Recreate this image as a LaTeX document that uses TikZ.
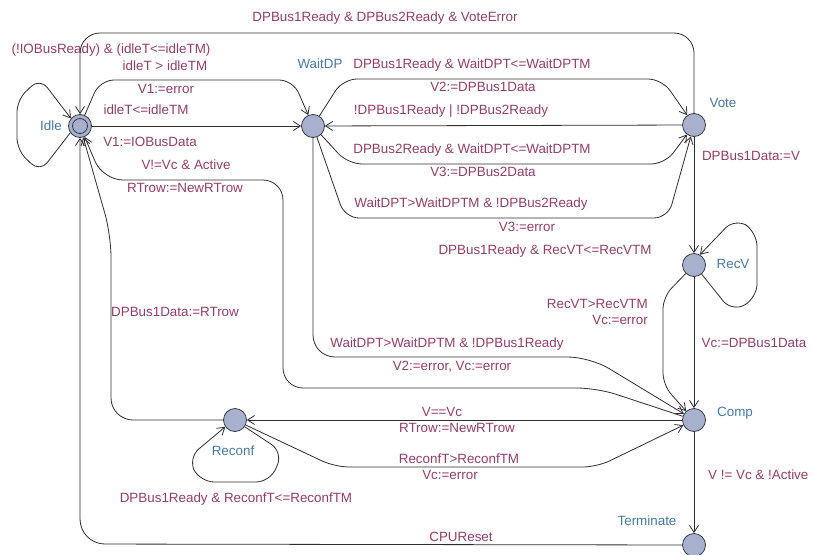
\documentclass[tikz,border=0pt]{standalone}
\usepackage{fontspec}
\setmainfont{Liberation Sans}
\usetikzlibrary{arrows.meta}

\definecolor{locfill}{RGB}{167,176,205}
\definecolor{locdraw}{RGB}{55,58,70}
\definecolor{locname}{RGB}{70,120,165}
\definecolor{edgetext}{RGB}{150,60,105}
\definecolor{edgeline}{RGB}{45,45,45}

\tikzset{
  loc/.style={circle, minimum size=23pt, inner sep=0pt, fill=locfill, draw=locdraw, line width=0.8pt},
  locname/.style={text=locname, font=\fontsize{13.4}{15}\selectfont, inner sep=0pt, text height=9.6pt, text depth=2.6pt},
  lbl/.style={text=edgetext, font=\fontsize{13.4}{15}\selectfont, inner sep=0pt, text height=9.6pt, text depth=2.6pt},
  trans/.style={draw=edgeline, line width=0.8pt, -{Straight Barb[length=7pt,width=9pt]}, rounded corners=14pt},
}

\begin{document}
\begin{tikzpicture}[x=1pt,y=-1pt]
\useasboundingbox (0,0) rectangle (813,554);

% locations
\node[loc] (idle)   at (80,126)  {};
\node[loc] (waitdp) at (313,126) {};
\node[loc] (vote)   at (694,125) {};
\node[loc] (recv)   at (694,265) {};
\node[loc] (comp)   at (694,420) {};
\node[loc] (reconf) at (235,420) {};
\node[loc] (term)   at (694,545) {};
% initial location ring
\draw[locdraw, line width=0.8pt] (idle) circle[radius=7.5pt];

% location names
\node[locname, anchor=east] (nIdle) at (62,127) {Idle};
\node[locname] (nWaitDP) at (320,65)  {WaitDP};
\node[locname] (nVote)   at (723,104) {Vote};
\node[locname] (nRecV)   at (733,265) {RecV};
\node[locname] (nComp)   at (735,413) {Comp};
\node[locname] (nReconf) at (233,452) {Reconf};
\node[locname] (nTerm)   at (647,522) {Terminate};

% Idle self-loop
\draw[trans, rounded corners=12pt] (idle.215) -- (40,172) -- (17,150) -- (17,100) -- (40,78) -- (idle.140);
\node[lbl] (g1) at (111,50) {(!IOBusReady) \& (idleT<=idleTM)};

% Idle -> WaitDP (timeout)
\draw[trans] (idle) -- (100,80) -- (293,80) -- (waitdp);
\node[lbl] (g2) at (165,67) {idleT > idleTM};
\node[lbl] (a2) at (166,90) {V1:=error};

% Idle -> WaitDP
\draw[trans] (idle) -- (waitdp);
\node[lbl] (g3) at (146,111) {idleT<=idleTM};
\node[lbl] (a3) at (150,143) {V1:=IOBusData};

% Vote -> Idle (vote error)
\draw[trans, rounded corners=20pt] (vote) -- (694,33) -- (80,33) -- (idle);
\node[lbl] (g4) at (385,18) {DPBus1Ready \& DPBus2Ready \& VoteError};

% WaitDP -> Vote (bus 1)
\draw[trans] (waitdp) -- (343,79) -- (662,79) -- (vote);
\node[lbl] (g5) at (472,65) {DPBus1Ready \& WaitDPT<=WaitDPTM};
\node[lbl] (a5) at (483,88) {V2:=DPBus1Data};

% Vote -> WaitDP
\draw[trans] (vote) -- (waitdp);
\node[lbl] (g6) at (451,111) {!DPBus1Ready | !DPBus2Ready};

% WaitDP -> Vote (bus 2)
\draw[trans] (waitdp) -- (348,164) -- (665,164) -- (vote);
\node[lbl] (g7) at (472,150) {DPBus2Ready \& WaitDPT<=WaitDPTM};
\node[lbl] (a7) at (483,173) {V3:=DPBus2Data};

% WaitDP -> Vote (bus 2 timeout)
\draw[trans] (waitdp) -- (345,218) -- (668,218) -- (vote);
\node[lbl] (g8) at (471,204) {WaitDPT>WaitDPTM \& !DPBus2Ready};
\node[lbl] (a8) at (527,228) {V3:=error};

% WaitDP -> Comp (bus 1 timeout)
\draw[trans, rounded corners=22pt] (waitdp) -- (313,357) -- (590,357) -- (comp);
\node[lbl] (g9) at (447,344) {WaitDPT>WaitDPTM \& !DPBus1Ready};
\node[lbl] (a9) at (452,367) {V2:=error, Vc:=error};

% Comp -> Idle
\draw[trans, rounded corners=20pt] (comp) -- (597,388) -- (283,388) -- (283,180) -- (103,180) -- (idle);
\node[lbl] (g10) at (186,166) {V!=Vc \& Active};
\node[lbl] (a10) at (185,189) {RTrow:=NewRTrow};

% Reconf -> Idle
\draw[trans, rounded corners=22pt] (reconf) -- (111,420) -- (111,235) -- (idle);
\node[lbl] (a11) at (175,313) {DPBus1Data:=RTrow};

% Terminate -> Idle
\draw[trans, rounded corners=25pt] (term) -- (80,544) -- (idle);
\node[lbl] (g12) at (461,538) {CPUReset};

% Reconf self-loop
\draw[trans, rounded corners=14pt] (reconf.-35) -- (283,452) -- (270,482) -- (200,482) -- (188,458) -- (reconf.215);
\node[lbl] (g13) at (236,499) {DPBus1Ready \& ReconfT<=ReconfTM};

% Comp -> Reconf
\draw[trans] (comp) -- (reconf);
\node[lbl] (g14) at (442,413) {V==Vc};
\node[lbl] (a14) at (457,429) {RTrow:=NewRTrow};

% Reconf -> Comp
\draw[trans] (reconf) -- (335,467) -- (597,467) -- (comp);
\node[lbl] (g15) at (459,460) {ReconfT>ReconfTM};
\node[lbl] (a15) at (450,476) {Vc:=error};

% Comp -> Terminate
\draw[trans] (comp) -- (term);
\node[lbl, anchor=west] (g16) at (708,476) {V != Vc \& !Active};

% Vote -> RecV
\draw[trans] (vote) -- (recv);
\node[lbl] (a17) at (751,157) {DPBus1Data:=V};

% RecV self-loop
\draw[trans, rounded corners=14pt] (recv.-50) -- (732,312) -- (757,298) -- (757,232) -- (735,218) -- (recv.60);
\node[lbl] (g18) at (545,251) {DPBus1Ready \& RecVT<=RecVTM};

% RecV -> Comp
\draw[trans] (recv) -- (comp);
\node[lbl] (a19) at (754,344) {Vc:=DPBus1Data};

% RecV -> Comp (timeout)
\draw[trans, rounded corners=12pt] (recv) -- (663,297) -- (663,385) -- (comp);
\node[lbl, anchor=east] (g20) at (648,305) {RecVT>RecVTM};
\node[lbl, anchor=east] (a20) at (648,321) {Vc:=error};
\end{tikzpicture}
\end{document}
